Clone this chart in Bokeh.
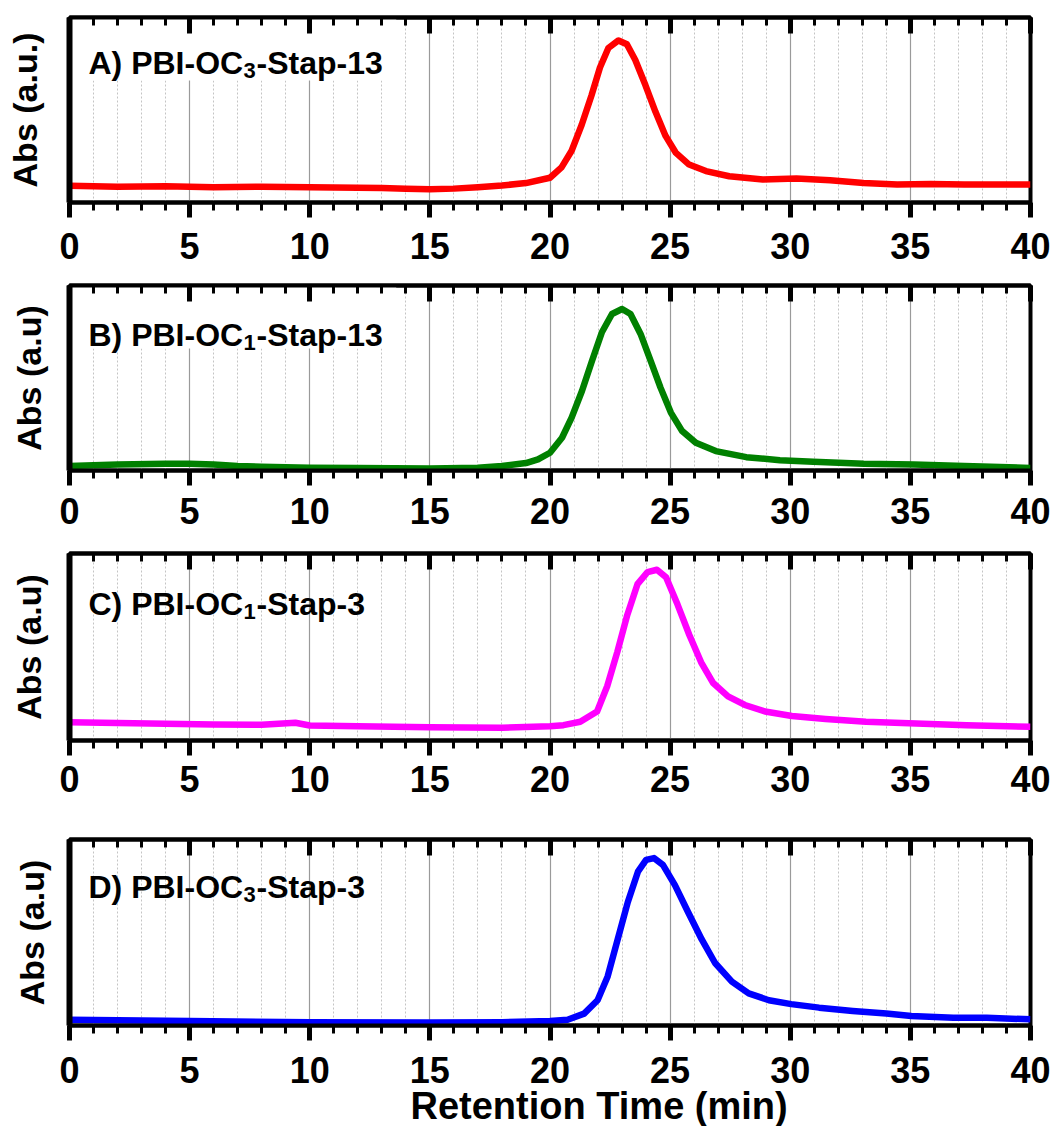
from bokeh.plotting import figure
from bokeh.layouts import column
from bokeh.models import Range1d, FixedTicker, LinearAxis, BoxAnnotation, Label, Title
from bokeh.embed import file_html
from bokeh.resources import INLINE

# ---------------- data (y normalised to frame height) ----------
x_major = [0, 5, 10, 15, 20, 25, 30, 35, 40]
x_minor = list(range(0, 41))

t_A = [0, 2, 4, 6, 8, 10, 12, 13, 14, 15, 16, 17, 18, 19, 20, 20.48, 20.9, 21.32, 21.73,
       22.08, 22.43, 22.85, 23.2, 23.55, 23.97, 24.39, 24.81, 25.23, 25.79, 26.49, 27.46,
       28.86, 30.26, 31.66, 33.05, 34.45, 35.85, 37.24, 38.64, 40]
abs_A = [0.09, 0.085, 0.088, 0.083, 0.085, 0.082, 0.08, 0.078, 0.074, 0.072, 0.075, 0.083,
         0.092, 0.105, 0.134, 0.19, 0.28, 0.42, 0.58, 0.73, 0.835, 0.876, 0.855, 0.77, 0.635,
         0.49, 0.36, 0.27, 0.205, 0.17, 0.142, 0.124, 0.13, 0.12, 0.106, 0.097, 0.1, 0.097,
         0.097, 0.097]

t_B = [0, 2, 4, 5, 6, 7, 8, 10, 12, 15, 17, 18, 19, 19.5, 20, 20.5, 20.9, 21.33, 21.75, 22.16,
       22.58, 23.0, 23.35, 23.77, 24.19, 24.6, 25.03, 25.5, 26.07, 26.9, 28.17, 29.57, 30.96,
       33.06, 35.15, 37.25, 40]
abs_B = [0.024, 0.033, 0.036, 0.036, 0.033, 0.024, 0.02, 0.015, 0.013, 0.011, 0.015, 0.024,
         0.04, 0.06, 0.096, 0.177, 0.286, 0.43, 0.593, 0.747, 0.846, 0.873, 0.846, 0.738, 0.593,
         0.448, 0.313, 0.213, 0.15, 0.105, 0.072, 0.056, 0.047, 0.036, 0.033, 0.024, 0.014]

t_C = [0, 2, 4, 6, 8, 9.4, 10, 12, 15, 18, 20, 20.56, 21.26, 21.96, 22.38, 22.8, 23.22, 23.64,
       24.06, 24.45, 24.83, 25.31, 25.8, 26.29, 26.78, 27.41, 28.11, 28.95, 30.07, 31.47,
       33.15, 35.24, 37.34, 40]
abs_C = [0.098, 0.094, 0.09, 0.086, 0.084, 0.095, 0.08, 0.076, 0.071, 0.068, 0.076, 0.082,
         0.1, 0.155, 0.29, 0.473, 0.673, 0.836, 0.9, 0.913, 0.873, 0.727, 0.564, 0.418, 0.309,
         0.236, 0.19, 0.155, 0.131, 0.115, 0.1, 0.091, 0.082, 0.073]

t_D = [0, 5, 10, 15, 18, 20, 20.73, 21.42, 21.98, 22.4, 22.82, 23.24, 23.66, 24.0, 24.33,
       24.7, 25.2, 25.75, 26.31, 26.87, 27.57, 28.27, 29.11, 30.04, 31.2, 32.6, 34.0, 35.04,
       36.79, 38.18, 40]
abs_D = [0.031, 0.024, 0.018, 0.016, 0.018, 0.024, 0.031, 0.064, 0.136, 0.264, 0.464, 0.664,
         0.827, 0.89, 0.9, 0.864, 0.755, 0.609, 0.464, 0.336, 0.236, 0.173, 0.136, 0.115,
         0.096, 0.078, 0.064, 0.051, 0.042, 0.042, 0.033]

labels_main = ["A) PBI-OC", "B) PBI-OC", "C) PBI-OC", "D) PBI-OC"]
labels_sub = ["3", "1", "1", "3"]
labels_tail = ["-Stap-13", "-Stap-13", "-Stap-3", "-Stap-3"]
y_titles = ["Abs (a.u.)", "Abs (a.u)", "Abs (a.u)", "Abs (a.u)"]
x_title = "Retention Time (min)"
colors = ["#ff0000", "#008000", "#ff00ff", "#0000ff"]

FONT = "Liberation Sans"


def make_panel(t, a, color, i, height, b_top, b_bottom, b_left, b_right,
               ystand, xstand, lab_y, box=False):
    p = figure(width=1061, height=height, output_backend="svg", toolbar_location=None,
               x_range=Range1d(0, 40), y_range=Range1d(0, 1),
               min_border_top=b_top, min_border_bottom=b_bottom,
               min_border_left=b_left, min_border_right=b_right)
    p.background_fill_color = "white"
    p.border_fill_color = "white"
    p.outline_line_color = "black"
    p.outline_line_width = 4

    ticker = FixedTicker(ticks=x_major, minor_ticks=x_minor)
    xa = p.xaxis[0]
    xa.ticker = ticker
    xa.axis_line_width = 4
    xa.major_tick_in = 0
    xa.major_tick_out = 15
    xa.minor_tick_in = 0
    xa.minor_tick_out = 8
    xa.major_tick_line_width = 5
    xa.minor_tick_line_width = 3
    xa.major_label_text_font = FONT
    xa.major_label_text_font_style = "bold"
    xa.major_label_text_font_size = "36px"
    xa.major_label_text_color = "black"
    xa.major_label_standoff = xstand

    top = LinearAxis(ticker=ticker, axis_line_width=4, major_tick_in=16, major_tick_out=0,
                     minor_tick_in=8, minor_tick_out=0, major_tick_line_width=5,
                     minor_tick_line_width=3, major_label_text_font_size="0px",
                     major_label_text_alpha=0, major_label_standoff=0)
    p.add_layout(top, "above")

    ya = p.yaxis[0]
    ya.ticker = FixedTicker(ticks=[])
    ya.axis_line_width = 6
    ya.axis_label = y_titles[i]
    ya.axis_label_text_font = FONT
    ya.axis_label_text_font_style = "bold"
    ya.axis_label_text_font_size = "34px"
    ya.axis_label_text_color = "black"
    ya.axis_label_standoff = ystand
    ya.major_tick_out = 0
    ya.minor_tick_out = 0

    p.ygrid.visible = False
    p.xgrid.grid_line_color = "#9a9a9a"
    p.xgrid.grid_line_width = 1.2
    p.xgrid.minor_grid_line_color = "#c4c4c4"
    p.xgrid.minor_grid_line_width = 1
    p.xgrid.minor_grid_line_dash = "2 2"

    if box:
        p.add_layout(BoxAnnotation(left=0, right=13.6, bottom=0.66, top=1.0,
                                   fill_color="white", fill_alpha=1.0,
                                   line_color=None, level="underlay"))

    p.line(t, a, line_color=color, line_width=6.5, line_join="round")

    fh = height - b_top - b_bottom
    x0 = 19
    base = fh - lab_y
    p.add_layout(Label(x=x0, y=base, x_units="screen", y_units="screen",
                       text=labels_main[i], text_font=FONT, text_font_style="bold",
                       text_font_size="32px", text_color="black",
                       text_baseline="alphabetic"))
    p.add_layout(Label(x=x0 + 155, y=base - 8, x_units="screen", y_units="screen",
                       text=labels_sub[i], text_font=FONT, text_font_style="bold",
                       text_font_size="22px", text_color="black",
                       text_baseline="alphabetic"))
    p.add_layout(Label(x=x0 + 168, y=base, x_units="screen", y_units="screen",
                       text=labels_tail[i], text_font=FONT, text_font_style="bold",
                       text_font_size="32px", text_color="black",
                       text_baseline="alphabetic"))
    return p


pA = make_panel(t_A, abs_A, colors[0], 0, 272, 17, 70, 69, 25, 26, 15, 45, box=True)
pB = make_panel(t_B, abs_B, colors[1], 1, 273, 13, 75, 66, 25, 22, 12, 49, box=True)
pC = make_panel(t_C, abs_C, colors[2], 2, 270, 8, 75, 64, 28, 22, 10, 50)
pD = make_panel(t_D, abs_D, colors[3], 3, 311, 24, 101, 61, 31, 19, 16, 47)

pD.add_layout(Title(text=x_title, align="left", offset=341, standoff=-6,
                    text_font=FONT, text_font_style="bold", text_font_size="38px",
                    text_color="black"), "below")

layout = column(pA, pB, pC, pD, spacing=0)
open("out.html", "w").write(file_html(layout, INLINE))
